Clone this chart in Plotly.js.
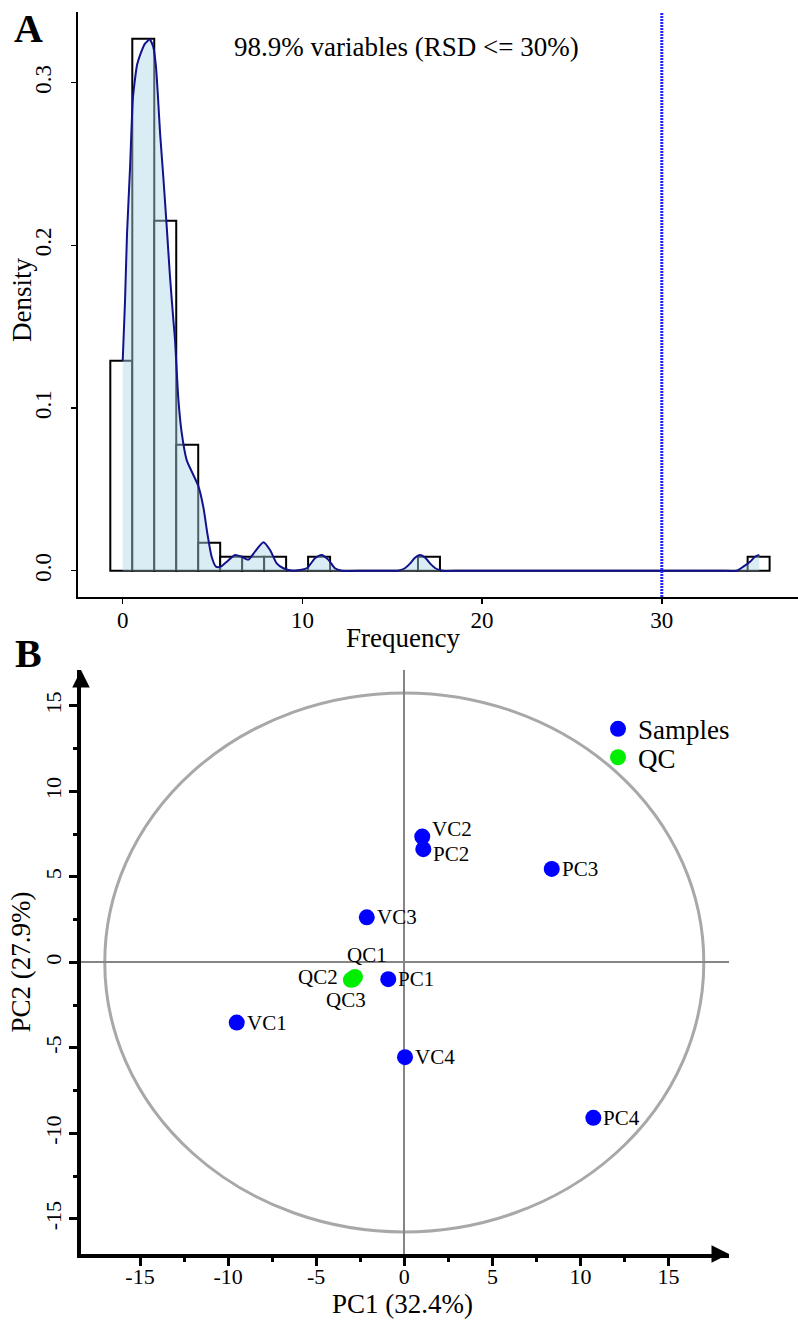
<!DOCTYPE html>
<html><head><meta charset="utf-8">
<script src="https://cdn.plot.ly/plotly-3.0.1.min.js"></script>
<style>html,body{margin:0;padding:0;background:#fff}</style>
</head><body>
<div id="chart" style="width:798px;height:1323px"></div>
<script>
// ---------- Panel A data: RSD distribution of QC variables ----------
const binStart = -0.69;
const binWidth = 1.223;
const binCounts = [15, 38, 25, 9, 2, 1, 1, 1, 0, 1, 0, 0, 0, 0, 1, 0, 0, 0, 0, 0, 0, 0, 0, 0, 0, 0, 0, 0, 0, 1];
const densityX = [0, 0.13, 0.24, 0.41, 0.56, 0.66, 0.8, 1.0, 1.24, 1.5, 1.7, 1.85, 1.95, 2.08, 2.26, 2.45, 2.63, 2.82, 2.91, 3.1,
  3.28, 3.56, 3.84, 4.21, 4.49, 4.71, 4.95, 5.19, 5.45, 5.79, 6.25, 6.62, 6.99, 7.36, 7.83, 8.2, 8.57, 8.94, 9.49, 10.24,
  10.7, 11.07, 11.44, 11.81, 12.19, 13.5, 14.5, 15.3, 15.7, 16.0, 16.25, 16.55, 16.85, 17.1, 17.4, 17.8, 18.8, 22, 26, 30, 33.2,
  34.17, 34.54, 34.91, 35.19, 35.43];
const densityY = [0.129, 0.166, 0.207, 0.248, 0.2895, 0.30, 0.311, 0.318, 0.324, 0.3265, 0.322, 0.31, 0.2935, 0.269, 0.242, 0.2115, 0.181, 0.154, 0.142, 0.105,
  0.085, 0.068, 0.061, 0.052, 0.039, 0.023, 0.0086, 0.0025, 0.0025, 0.0055, 0.0097, 0.0086, 0.0068, 0.0117, 0.0175, 0.0127, 0.0045, 0.0015, 0, 0.0015,
  0.0076, 0.0097, 0.0068, 0.0015, 0, 0, 0, 0, 0.0015, 0.0045, 0.0078, 0.0097, 0.0078, 0.0045, 0.0015, 0, 0, 0, 0, 0, 0,
  0, 0.0025, 0.0055, 0.0086, 0.0097];
const rsdCutoff = 30;
const xTicksA = [0, 10, 20, 30];
const yTicksA = [0, 0.1, 0.2, 0.3];
const yTickTextA = ['0.0', '0.1', '0.2', '0.3'];
const summaryText = '98.9% variables (RSD <= 30%)';

// ---------- Panel B data: PCA scores ----------
const sampleNames = ['VC1', 'VC2', 'VC3', 'VC4', 'PC1', 'PC2', 'PC3', 'PC4'];
const samplePC1 = [-9.51, 1.02, -2.13, 0.04, -0.91, 1.08, 8.37, 10.73];
const samplePC2 = [-3.52, 7.36, 2.64, -5.54, -0.98, 6.62, 5.47, -9.09];
const qcNames = ['QC1', 'QC2', 'QC3'];
const qcPC1 = [-2.80, -3.03, -2.91];
const qcPC2 = [-0.85, -1.02, -0.99];
const ellipseSemiAxes = [17.0, 15.76];   // Hotelling T2 ellipse (PC1, PC2)
const pcTicks = [-15, -10, -5, 0, 5, 10, 15];
const pcTickText = ['-15', '-10', '-5', '0', '5', '10', '15'];
const pcMinorTicks = [-12.5, -7.5, -2.5, 2.5, 7.5, 12.5];

// ---------- label placement styles (pixel offsets) ----------
const defaultLabelStyle = { xanchor: 'left', xshift: 9, yshift: 0 };
const labelStyle = {
  VC2: { xanchor: 'left', xshift: 9, yshift: 8 },
  PC2: { xanchor: 'left', xshift: 9, yshift: -5 },
  QC1: { xanchor: 'center', xshift: 12, yshift: 22 },
  QC2: { xanchor: 'right', xshift: -12, yshift: 3 },
  QC3: { xanchor: 'center', xshift: -7, yshift: -21 }
};

// ---------- derived ----------
const nTotal = binCounts.reduce((a, b) => a + b, 0);
const binCenters = binCounts.map((c, i) => binStart + (i + 0.5) * binWidth);
const binDensity = binCounts.map(c => c / (nTotal * binWidth));

const serif = 'Liberation Serif, "Times New Roman", serif';

const traces = [
  { type: 'bar', x: binCenters, y: binDensity, width: binWidth, xaxis: 'x', yaxis: 'y',
    marker: { color: 'white', line: { color: 'black', width: 2 } }, showlegend: false, hoverinfo: 'skip' },
  { type: 'scatter', mode: 'lines', x: densityX, y: densityY, xaxis: 'x', yaxis: 'y',
    line: { color: '#12128c', width: 2, shape: 'spline', smoothing: 0.6 },
    fill: 'tozeroy', fillcolor: 'rgba(173,216,230,0.45)', showlegend: false, hoverinfo: 'skip' },
  { type: 'scatter', mode: 'markers', name: 'Samples', x: samplePC1, y: samplePC2, xaxis: 'x2', yaxis: 'y2',
    marker: { color: '#0000ff', size: 16 }, legend: 'legend' },
  { type: 'scatter', mode: 'markers', name: 'QC', x: qcPC1, y: qcPC2, xaxis: 'x2', yaxis: 'y2',
    marker: { color: '#00ee00', size: 16 }, legend: 'legend2' }
];

function pointLabels(names, xs, ys) {
  return names.map((n, i) => {
    const st = labelStyle[n] || defaultLabelStyle;
    return { xref: 'x2', yref: 'y2', x: xs[i], y: ys[i], text: n, showarrow: false,
      xanchor: st.xanchor, yanchor: 'middle', xshift: st.xshift, yshift: st.yshift, borderpad: 0,
      font: { family: serif, size: 21, color: 'black' } };
  });
}

const axisA = { showgrid: false, zeroline: false, showline: true, linecolor: 'black', linewidth: 2,
  ticks: 'outside', ticklen: 5, tickwidth: 1.5, tickcolor: 'black', tickfont: { size: 23, family: serif, color: 'black' } };
const axisB = { showgrid: false, zeroline: true, zerolinecolor: '#858585', zerolinewidth: 2,
  showline: true, linecolor: 'black', linewidth: 3.5, ticks: 'outside', ticklen: 8, tickwidth: 3, tickcolor: 'black',
  tickvals: pcTicks, ticktext: pcTickText, tickfont: { size: 22, family: serif, color: 'black' },
  minor: { tickvals: pcMinorTicks, ticks: 'outside', ticklen: 4, tickwidth: 3, tickcolor: 'black', showgrid: false } };

const xRangeB = [-18.35, 18.43];
const yRangeB = [-17.05, 17.1];

const layout = {
  width: 798, height: 1323, margin: { l: 0, r: 0, t: 0, b: 0 },
  paper_bgcolor: 'white', plot_bgcolor: 'rgba(0,0,0,0)',
  font: { family: serif, color: 'black' },
  bargap: 0,
  xaxis: Object.assign({}, axisA, { domain: [0.09774, 1], range: [-2.488, 37.58], anchor: 'y',
    tickvals: xTicksA, ticklabelstandoff: -4 }),
  yaxis: Object.assign({}, axisA, { domain: [0.54875, 0.99093], range: [-0.01617, 0.34346], anchor: 'x',
    tickvals: yTicksA, ticktext: yTickTextA, tickangle: -90, ticklabelstandoff: 11 }),
  xaxis2: Object.assign({}, axisB, { domain: [0.1015, 0.91353], range: xRangeB, anchor: 'y2', ticklabelstandoff: -8 }),
  yaxis2: Object.assign({}, axisB, { domain: [0.05215, 0.49358], range: yRangeB, anchor: 'x2',
    tickangle: -90, ticklabelstandoff: 0,
    title: { text: 'PC2 (27.9%)', font: { size: 27, family: serif }, standoff: 3 } }),
  legend: { x: 598 / 798, xanchor: 'left', y: 1 - 729.3 / 1323, yanchor: 'middle',
    font: { size: 27, family: serif }, bgcolor: 'rgba(0,0,0,0)', borderwidth: 0, itemwidth: 30 },
  legend2: { x: 598 / 798, xanchor: 'left', y: 1 - 757.7 / 1323, yanchor: 'middle',
    font: { size: 27, family: serif }, bgcolor: 'rgba(0,0,0,0)', borderwidth: 0, itemwidth: 30 },
  shapes: [
    { type: 'line', xref: 'x', yref: 'y domain', x0: rsdCutoff, x1: rsdCutoff, y0: 0, y1: 1,
      line: { color: '#2323ff', width: 3, dash: '2px,1px' } },
    { type: 'circle', xref: 'x2', yref: 'y2', layer: 'below',
      x0: -ellipseSemiAxes[0], x1: ellipseSemiAxes[0], y0: -ellipseSemiAxes[1], y1: ellipseSemiAxes[1],
      line: { color: '#a8a8a8', width: 3 } }
  ],
  annotations: [
    { xref: 'paper', yref: 'paper', x: 28 / 798, y: 1 - 28 / 1323, text: '<b>A</b>', showarrow: false,
      font: { size: 40, family: serif, color: 'black' }, xanchor: 'center', yanchor: 'middle' },
    { xref: 'paper', yref: 'paper', x: 28 / 798, y: 1 - 654 / 1323, text: '<b>B</b>', showarrow: false,
      font: { size: 40, family: serif, color: 'black' }, xanchor: 'center', yanchor: 'middle' },
    { xref: 'paper', yref: 'paper', x: 406.5 / 798, y: 1 - 47 / 1323, text: summaryText, showarrow: false,
      font: { size: 27, family: serif, color: 'black' }, xanchor: 'center', yanchor: 'middle' },
    { xref: 'paper', yref: 'paper', x: 403 / 798, y: 1 - 638 / 1323, text: 'Frequency', showarrow: false,
      font: { size: 27, family: serif, color: 'black' }, xanchor: 'center', yanchor: 'middle' },
    { xref: 'paper', yref: 'paper', x: 22 / 798, y: 1 - 300 / 1323, text: 'Density', textangle: -90, showarrow: false,
      font: { size: 27, family: serif, color: 'black' }, xanchor: 'center', yanchor: 'middle' },
    { xref: 'paper', yref: 'paper', x: 402 / 798, y: 1 - 1304 / 1323, text: 'PC1 (32.4%)', showarrow: false,
      font: { size: 27, family: serif, color: 'black' }, xanchor: 'center', yanchor: 'middle' },
    { xref: 'x2', yref: 'y2', x: xRangeB[1], y: yRangeB[0], ax: -16, ay: 0, text: '', showarrow: true,
      arrowhead: 2, arrowsize: 1, arrowwidth: 3.5, arrowcolor: 'black', standoff: 0 },
    { xref: 'x2', yref: 'y2', x: xRangeB[0], y: yRangeB[1], ax: 0, ay: 16, text: '', showarrow: true,
      arrowhead: 2, arrowsize: 1, arrowwidth: 3.5, arrowcolor: 'black', standoff: 0 }
  ].concat(pointLabels(sampleNames, samplePC1, samplePC2), pointLabels(qcNames, qcPC1, qcPC2))
};

Plotly.newPlot('chart', traces, layout, { displayModeBar: false, staticPlot: true });
</script>
</body></html>
